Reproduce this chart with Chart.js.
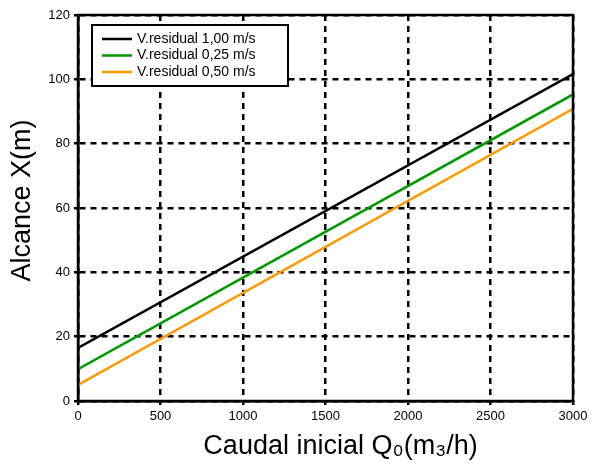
<!DOCTYPE html>
<html lang="es">
<head>
    <meta charset="UTF-8">
    <title>Alcance vs Caudal inicial</title>
    <script src="https://cdn.jsdelivr.net/npm/chart.js"></script>
    <style>
        body { margin: 0; background: #fff; }
        #wrap { width: 597px; height: 464px; }
    </style>
</head>
<body>
    <div id="wrap"><canvas id="alcanceChart" width="597" height="464"></canvas></div>

    <script>
        // values (straight lines, endpoints)
        const caudal = [0, 3000];
        const alcance100 = [16.5, 101.6];
        const alcance025 = [9.9, 95.3];
        const alcance050 = [5.0, 90.8];
        const seriesLabels = ["V.residual 1,00 m/s", "V.residual 0,25 m/s", "V.residual 0,50 m/s"];
        const seriesColors = ["#000000", "#009900", "#ff9900"];

        const toXY = (xs, ys) => xs.map((x, i) => ({ x: x, y: ys[i] }));

        // frame around the plot area + legend box inside it
        const framePlugin = {
            id: "frame",
            afterDraw(chart) {
                const { ctx, chartArea: a } = chart;
                ctx.save();
                ctx.strokeStyle = "#000";
                ctx.lineWidth = 2.5;
                ctx.strokeRect(a.left, a.top, a.right - a.left, a.bottom - a.top);

                // legend
                const lx = 92, ly = 25, lw = 196, lh = 61;
                ctx.fillStyle = "#fff";
                ctx.fillRect(lx, ly, lw, lh);
                ctx.lineWidth = 2;
                ctx.strokeRect(lx, ly, lw, lh);
                ctx.font = "14px 'Liberation Sans', Arial, sans-serif";
                ctx.textBaseline = "middle";
                chart.data.datasets.forEach((ds, i) => {
                    const y = 39 + i * 16.5;
                    ctx.strokeStyle = ds.borderColor;
                    ctx.lineWidth = 2.5;
                    ctx.beginPath();
                    ctx.moveTo(102, y);
                    ctx.lineTo(132, y);
                    ctx.stroke();
                    ctx.fillStyle = "#000";
                    ctx.fillText(ds.label, 137, y);
                });
                ctx.restore();
            }
        };

        const tickFont = { family: "'Liberation Sans', Arial, sans-serif", size: 13 };
        const titleFont = { family: "'Liberation Sans', Arial, sans-serif", size: 27 };

        new Chart(document.getElementById("alcanceChart"), {
            type: "line",
            data: {
                datasets: [
                    { label: seriesLabels[0], data: toXY(caudal, alcance100), borderColor: seriesColors[0] },
                    { label: seriesLabels[1], data: toXY(caudal, alcance025), borderColor: seriesColors[1] },
                    { label: seriesLabels[2], data: toXY(caudal, alcance050), borderColor: seriesColors[2] }
                ].map(ds => ({ ...ds, borderWidth: 2.5, pointRadius: 0, fill: false, tension: 0 }))
            },
            options: {
                responsive: false,
                animation: false,
                layout: { padding: { top: 15, right: 24, left: 0, bottom: 0 } },
                plugins: {
                    legend: { display: false },
                    tooltip: { enabled: false }
                },
                scales: {
                    x: {
                        type: "linear",
                        min: 0,
                        max: 3000,
                        ticks: { stepSize: 500, color: "#000", font: tickFont, padding: 4, maxRotation: 0, callback: v => String(v) },
                        grid: { color: "#000", lineWidth: 2.5, tickLength: 4 },
                        border: { color: "#000", width: 2.5, dash: [6, 5] },
                        title: {
                            display: true,
                            text: "    Caudal inicial Q\u2080(m\u2083/h)",
                            color: "#000",
                            font: titleFont,
                            padding: { top: 0, bottom: 1 }
                        },
                        afterFit(scale) { scale.height = 63; }
                    },
                    y: {
                        min: 0,
                        max: 120,
                        ticks: { stepSize: 20, color: "#000", font: tickFont, padding: 4 },
                        grid: { color: "#000", lineWidth: 2.5, tickLength: 4 },
                        border: { color: "#000", width: 2.5, dash: [6, 5] },
                        title: {
                            display: true,
                            text: "  Alcance X(m)",
                            color: "#000",
                            font: titleFont,
                            padding: { top: 6, bottom: 0 }
                        },
                        afterFit(scale) { scale.width = 78; }
                    }
                }
            },
            plugins: [framePlugin]
        });
    </script>
</body>
</html>
